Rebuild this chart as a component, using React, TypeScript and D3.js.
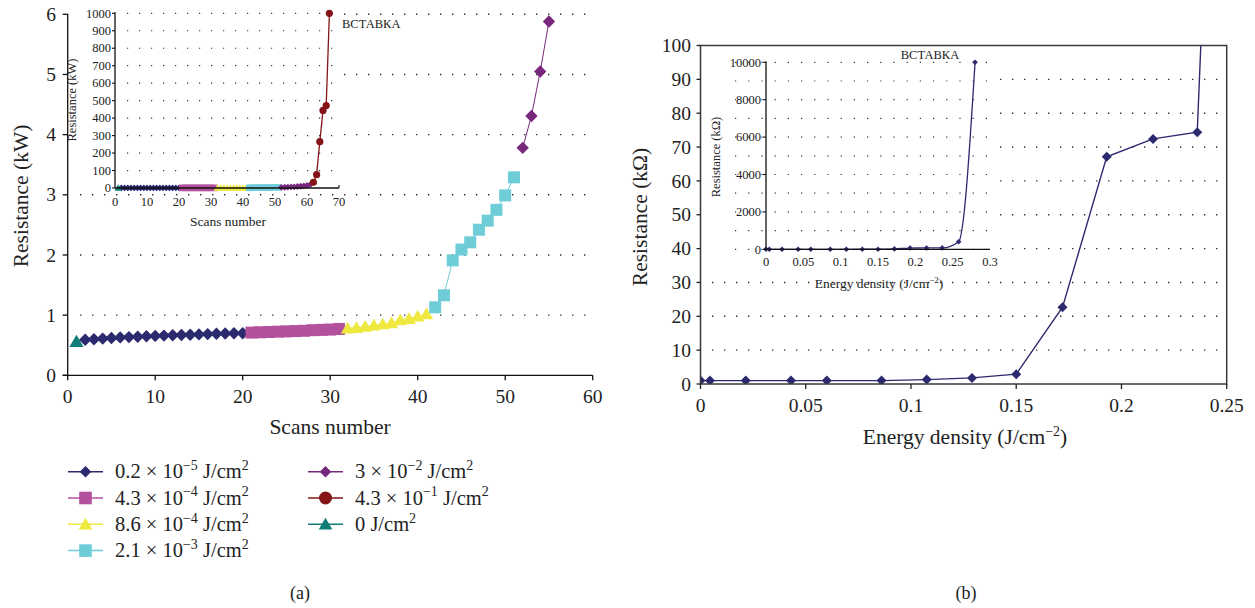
import React from 'react';
import * as d3 from 'd3';

// ---------- Data: panel (a) ----------
const zeroX = [1];
const zeroY = [0.56];
const navyX = [2, 3, 4, 5, 6, 7, 8, 9, 10, 11, 12, 13, 14, 15, 16, 17, 18, 19, 20];
const navyY = [0.59, 0.6, 0.61, 0.62, 0.63, 0.635, 0.64, 0.65, 0.655, 0.66, 0.665, 0.67, 0.675, 0.68, 0.685, 0.69, 0.695, 0.7, 0.7];
const magX = [21, 22, 23, 24, 25, 26, 27, 28, 29, 30, 31];
const magY = [0.71, 0.715, 0.72, 0.725, 0.73, 0.735, 0.74, 0.75, 0.755, 0.76, 0.77];
const yelX = [32, 33, 34, 35, 36, 37, 38, 39, 40, 41];
const yelY = [0.78, 0.79, 0.81, 0.83, 0.85, 0.87, 0.92, 0.94, 0.98, 1.02];
const cyanX = [42, 43, 44, 45, 46, 47, 48, 49, 50, 51];
const cyanY = [1.13, 1.33, 1.91, 2.09, 2.21, 2.42, 2.57, 2.75, 2.99, 3.29];
const purX = [52, 53, 54, 55];
const purY = [3.78, 4.31, 5.05, 5.88];
// inset (a)
const purInsetX = [52, 53, 54, 55, 56, 57, 58, 59, 60, 61];
const purInsetY = [3.8, 4.3, 5.1, 5.9, 7, 8.5, 10, 12, 15, 19];
const redX = [62, 63, 64, 65, 66, 67];
const redY = [33, 76, 265, 444, 472, 1000];

const legendBase = ['0.2 × 10', '4.3 × 10', '8.6 × 10', '2.1 × 10', '3 × 10', '4.3 × 10', '0 J/cm'];
const legendExp = ['−5', '−4', '−4', '−3', '−2', '−1', ''];

const aXTicks = [0, 10, 20, 30, 40, 50, 60];
const aYTicks = [0, 1, 2, 3, 4, 5, 6];
const aInsetXTicks = [0, 10, 20, 30, 40, 50, 60, 70];
const aInsetYTicks = [0, 100, 200, 300, 400, 500, 600, 700, 800, 900, 1000];

// ---------- Data: panel (b) ----------
const energy = [0, 0.0045, 0.0215, 0.043, 0.06, 0.086, 0.1075, 0.129, 0.15, 0.172, 0.193, 0.215, 0.236, 0.258, 0.28];
const resist = [1.0, 1.0, 1.0, 1.0, 1.0, 1.0, 1.3, 1.8, 2.9, 22.7, 67.1, 72.4, 74.4, 406, 10000];
const bXTicks = [0, 0.05, 0.1, 0.15, 0.2, 0.25];
const bYTicks = [0, 10, 20, 30, 40, 50, 60, 70, 80, 90, 100];
const bInsetXTicks = [0, 0.05, 0.1, 0.15, 0.2, 0.25, 0.3];
const bInsetYTicks = [0, 2000, 4000, 6000, 8000, 10000];
const bInsetGrid = [0, 1000, 2000, 3000, 4000, 5000, 6000, 7000, 8000, 9000, 10000];

const C = {
  navy: '#2c2a6f',
  mag: '#b4519f',
  yel: '#efe93f',
  cyan: '#6fcdd8',
  pur: '#78287c',
  red: '#841417',
  teal: '#0f7d78',
};
const FONT = '"Liberation Serif", "Times New Roman", serif';
const DOT = { stroke: '#333', strokeWidth: 1.4, strokeDasharray: '1.4 10.6' };

type Shape = 'diamond' | 'square' | 'triangle' | 'circle';

function Marker({ t, x, y, r, fill }: { t: Shape; x: number; y: number; r: number; fill: string }) {
  if (t === 'circle') return <circle cx={x} cy={y} r={r} fill={fill} />;
  if (t === 'square') return <rect x={x - r} y={y - r} width={2 * r} height={2 * r} fill={fill} />;
  if (t === 'triangle')
    return <path d={`M${x},${y - r}L${x + r * 1.05},${y + r * 0.8}L${x - r * 1.05},${y + r * 0.8}Z`} fill={fill} />;
  return <path d={`M${x},${y - r}L${x + r},${y}L${x},${y + r}L${x - r},${y}Z`} fill={fill} />;
}

function Series({ xs, ys, sx, sy, color, t, r, lw = 1 }: any) {
  const pts: [number, number][] = xs.map((x: number, i: number) => [x, ys[i]]);
  const line = d3.line<[number, number]>().x((d) => sx(d[0])).y((d) => sy(d[1]));
  return (
    <g>
      <path d={line(pts) || ''} fill="none" stroke={color} strokeWidth={lw} />
      {pts.map((p, i) => (
        <Marker key={i} t={t} x={sx(p[0])} y={sy(p[1])} r={r} fill={color} />
      ))}
    </g>
  );
}

function Sup({ base, exp, size, supSize }: { base: string; exp: string; size: number; supSize: number }) {
  return (
    <>
      <tspan>{base}</tspan>
      {exp ? (
        <tspan dy={-size * 0.4} fontSize={supSize}>
          {exp}
        </tspan>
      ) : null}
      <tspan dy={exp ? size * 0.4 : 0}>{exp ? ' J/cm' : ''}</tspan>
      <tspan dy={-size * 0.4} fontSize={supSize}>
        2
      </tspan>
    </>
  );
}

export default function App() {
  // panel (a) scales
  const xA = d3.scaleLinear().domain([0, 60]).range([67.7, 592.7]);
  const yA = d3.scaleLinear().domain([0, 6]).range([375.3, 14.3]);
  const xAi = d3.scaleLinear().domain([0, 70]).range([115, 339]);
  const yAi = d3.scaleLinear().domain([0, 1000]).range([188, 13.3]);
  // panel (b) scales
  const xB = d3.scaleLinear().domain([0, 0.25]).range([700.5, 1226.7]);
  const yB = d3.scaleLinear().domain([0, 100]).range([384, 45.5]);
  const xBi = d3.scaleLinear().domain([0, 0.3]).range([766, 990]);
  const yBi = d3.scaleLinear().domain([0, 10000]).range([249.3, 62.3]);

  const legendColors = [C.navy, C.mag, C.yel, C.cyan, C.pur, C.red, C.teal];
  const legendShapes: Shape[] = ['diamond', 'square', 'triangle', 'square', 'diamond', 'circle', 'triangle'];
  const legendR = [5.8, 6.3, 6.5, 6.3, 5.8, 6.5, 6.5];

  const lineB = d3.line<number>().x((_, i) => xB(energy[i])).y((d) => yB(d));
  const lineBi = d3
    .line<number>()
    .x((_, i) => xBi(energy[i]))
    .y((d) => yBi(d))
    .curve(d3.curveMonotoneX);

  return (
    <svg
      width={1255}
      height={608}
      style={{ position: 'absolute', left: 0, top: 0, background: '#fff' }}
      fontFamily={FONT}
    >
      <rect x={0} y={0} width={1255} height={608} fill="#fff" />
      {/* ================= Panel (a) ================= */}
      {aYTicks.slice(1).map((v) => (
        <line key={v} x1={80} x2={590} y1={yA(v)} y2={yA(v)} {...DOT} />
      ))}
      {/* inset background */}
      <rect x={70} y={0} width={272} height={191} fill="#fff" />
      {/* main series */}
      <Series xs={navyX} ys={navyY} sx={xA} sy={yA} color={C.navy} t="diamond" r={6.2} />
      <Series xs={magX} ys={magY} sx={xA} sy={yA} color={C.mag} t="square" r={6} />
      <Series xs={yelX} ys={yelY} sx={xA} sy={yA} color={C.yel} t="triangle" r={6.5} />
      <Series xs={cyanX} ys={cyanY} sx={xA} sy={yA} color={C.cyan} t="square" r={6} />
      <Series xs={purX} ys={purY} sx={xA} sy={yA} color={C.pur} t="diamond" r={6.2} />
      <Series xs={zeroX} ys={zeroY} sx={xA} sy={yA} color={C.teal} t="triangle" r={6.8} />
      {/* main axes */}
      <line x1={xA(0)} x2={xA(0)} y1={yA(6) - 0.5} y2={yA(0)} stroke="#111" strokeWidth={1.3} />
      <line x1={xA(0) - 5} x2={xA(60)} y1={yA(0)} y2={yA(0)} stroke="#111" strokeWidth={1.3} />
      {aYTicks.map((v) => (
        <g key={v}>
          <line x1={xA(0) - 5} x2={xA(0)} y1={yA(v)} y2={yA(v)} stroke="#111" strokeWidth={1.3} />
          <text x={56} y={yA(v)} dy="0.34em" textAnchor="end" fontSize={19.5} fill="#222">
            {v}
          </text>
        </g>
      ))}
      {aXTicks.map((v) => (
        <g key={v}>
          <line x1={xA(v)} x2={xA(v)} y1={yA(0)} y2={yA(0) + 5} stroke="#111" strokeWidth={1.3} />
          <text x={xA(v)} y={403} textAnchor="middle" fontSize={19.5} fill="#222">
            {v}
          </text>
        </g>
      ))}
      <text transform="translate(28,196) rotate(-90)" textAnchor="middle" fontSize={21.5} fill="#222">
        Resistance (kW)
      </text>
      <text x={330} y={434} textAnchor="middle" fontSize={21.5} fill="#222">
        Scans number
      </text>

      {/* inset (a) */}
      {aInsetYTicks.slice(1).map((v) => (
        <line key={v} x1={127} x2={340} y1={yAi(v)} y2={yAi(v)} {...DOT} strokeWidth={1.2} strokeDasharray="1.2 10.8" />
      ))}
      <Series xs={navyX} ys={navyY} sx={xAi} sy={yAi} color={C.navy} t="diamond" r={3.4} />
      <Series xs={magX} ys={magY} sx={xAi} sy={yAi} color={C.mag} t="square" r={3.3} />
      <Series xs={yelX} ys={yelY} sx={xAi} sy={yAi} color={C.yel} t="triangle" r={3.6} />
      <Series xs={cyanX} ys={cyanY} sx={xAi} sy={yAi} color={C.cyan} t="square" r={3.3} />
      <Series xs={purInsetX} ys={purInsetY} sx={xAi} sy={yAi} color={C.pur} t="diamond" r={3.4} />
      <Series xs={redX} ys={redY} sx={xAi} sy={yAi} color={C.red} t="circle" r={3.6} lw={1.3} />
      <Series xs={zeroX} ys={zeroY} sx={xAi} sy={yAi} color={C.teal} t="triangle" r={3.6} />
      <line x1={xAi(0)} x2={xAi(0)} y1={yAi(1000) - 1} y2={yAi(0)} stroke="#111" strokeWidth={1.3} />
      <line x1={xAi(0)} x2={xAi(70)} y1={yAi(0)} y2={yAi(0)} stroke="#111" strokeWidth={1.3} />
      <line x1={xAi(70)} x2={xAi(70)} y1={yAi(0) - 3} y2={yAi(0)} stroke="#111" strokeWidth={1.1} />
      {aInsetYTicks.map((v) => (
        <g key={v}>
          <line x1={xAi(0) - 3} x2={xAi(0)} y1={yAi(v)} y2={yAi(v)} stroke="#111" strokeWidth={1.1} />
          <text x={111} y={yAi(v)} dy="0.34em" textAnchor="end" fontSize={12.5} fill="#222">
            {v}
          </text>
        </g>
      ))}
      {aInsetXTicks.map((v) => (
        <text key={v} x={xAi(v)} y={206} textAnchor="middle" fontSize={12.5} fill="#222">
          {v}
        </text>
      ))}
      <text transform="translate(76,100) rotate(-90)" textAnchor="middle" fontSize={12.5} fill="#222">
        Resistance (kW)
      </text>
      <text x={228} y={226} textAnchor="middle" fontSize={13.5} fill="#222">
        Scans number
      </text>
      <text x={342} y={28} fontSize={12.5} fill="#222">
        ВСТАВКА
      </text>

      {/* legend (a) */}
      {legendBase.map((b, i) => {
        const col = i < 4 ? 0 : 1;
        const row = i < 4 ? i : i - 4;
        const lx = col === 0 ? 68 : 308;
        const cy = 471.7 + row * 26.3;
        return (
          <g key={i}>
            <line x1={lx} x2={lx + 35} y1={cy} y2={cy} stroke={legendColors[i]} strokeWidth={1.5} />
            <Marker t={legendShapes[i]} x={lx + 17.5} y={cy} r={legendR[i]} fill={legendColors[i]} />
            <text x={lx + 47} y={cy + 6.5} fontSize={20.5} fill="#222">
              <Sup base={b} exp={legendExp[i]} size={20.5} supSize={14} />
            </text>
          </g>
        );
      })}
      <text x={300} y={599} textAnchor="middle" fontSize={18} fill="#222">
        (a)
      </text>

      {/* ================= Panel (b) ================= */}
      {bYTicks.slice(1, -1).map((v) => (
        <line key={v} x1={712} x2={1222} y1={yB(v)} y2={yB(v)} {...DOT} />
      ))}
      <defs>
        <clipPath id="clipB">
          <rect x={xB(0)} y={yB(100)} width={xB(0.25) - xB(0)} height={yB(0) - yB(100)} />
        </clipPath>
      </defs>
      <g clipPath="url(#clipB)">
        <path d={lineB(resist) || ''} fill="none" stroke={C.navy} strokeWidth={1.4} />
        {resist.map((v, i) => (
          <Marker key={i} t="diamond" x={xB(energy[i])} y={yB(v)} r={5} fill={C.navy} />
        ))}
      </g>
      <rect
        x={xB(0)}
        y={yB(100)}
        width={xB(0.25) - xB(0)}
        height={yB(0) - yB(100)}
        fill="none"
        stroke="#3a3a3a"
        strokeWidth={1.5}
      />
      {bYTicks.map((v) => (
        <g key={v}>
          <line x1={xB(0) - 4} x2={xB(0)} y1={yB(v)} y2={yB(v)} stroke="#222" strokeWidth={1.3} />
          <text x={691} y={yB(v)} dy="0.34em" textAnchor="end" fontSize={19.5} fill="#222">
            {v}
          </text>
        </g>
      ))}
      {bXTicks.map((v) => (
        <g key={v}>
          <line x1={xB(v)} x2={xB(v)} y1={yB(0)} y2={yB(0) + 5} stroke="#222" strokeWidth={1.3} />
          <text x={xB(v)} y={411.5} textAnchor="middle" fontSize={19.5} fill="#222">
            {v}
          </text>
        </g>
      ))}
      <text transform="translate(647,217) rotate(-90)" textAnchor="middle" fontSize={21.5} fill="#222">
        Resistance (kΩ)
      </text>
      <text x={965} y={444} textAnchor="middle" fontSize={21.5} fill="#222">
        <tspan>Energy density (J/cm</tspan>
        <tspan dy={-8.5} fontSize={14}>
          −2
        </tspan>
        <tspan dy={8.5}>)</tspan>
      </text>

      {/* inset (b) */}
      <rect x={703} y={47} width={295} height={214} fill="#fff" />
      {bInsetGrid.map((v) => (
        <line key={v} x1={735} x2={990} y1={yBi(v)} y2={yBi(v)} stroke="#333" strokeWidth={1.2} strokeDasharray="1.2 12" />
      ))}
      <path d={lineBi(resist) || ''} fill="none" stroke={C.navy} strokeWidth={1.3} />
      {resist.map((v, i) => (
        <Marker key={i} t="diamond" x={xBi(energy[i])} y={yBi(v)} r={2.8} fill={C.navy} />
      ))}
      <line x1={xBi(0)} x2={xBi(0)} y1={yBi(10000) - 1} y2={yBi(0)} stroke="#111" strokeWidth={1.3} />
      <line x1={xBi(0)} x2={xBi(0.3)} y1={yBi(0)} y2={yBi(0)} stroke="#111" strokeWidth={1.3} />
      {bInsetYTicks.map((v) => (
        <g key={v}>
          <line x1={xBi(0) - 3} x2={xBi(0)} y1={yBi(v)} y2={yBi(v)} stroke="#111" strokeWidth={1.1} />
          <text x={761} y={yBi(v)} dy="0.34em" textAnchor="end" fontSize={12.5} fill="#222">
            {v}
          </text>
        </g>
      ))}
      {bInsetXTicks.map((v) => (
        <text key={v} x={xBi(v)} y={266} textAnchor="middle" fontSize={12.5} fill="#222">
          {v}
        </text>
      ))}
      <text transform="translate(720,157) rotate(-90)" textAnchor="middle" fontSize={12.5} fill="#222">
        Resistance (kΩ)
      </text>
      <text x={879} y={288} textAnchor="middle" fontSize={13.5} fill="#222">
        <tspan>Energy density (J/cm</tspan>
        <tspan dy={-5} fontSize={9}>
          −2
        </tspan>
        <tspan dy={5}>)</tspan>
      </text>
      <text x={930} y={59} textAnchor="middle" fontSize={12.5} fill="#222">
        ВСТАВКА
      </text>
      <text x={966} y={599} textAnchor="middle" fontSize={18} fill="#222">
        (b)
      </text>
    </svg>
  );
}
